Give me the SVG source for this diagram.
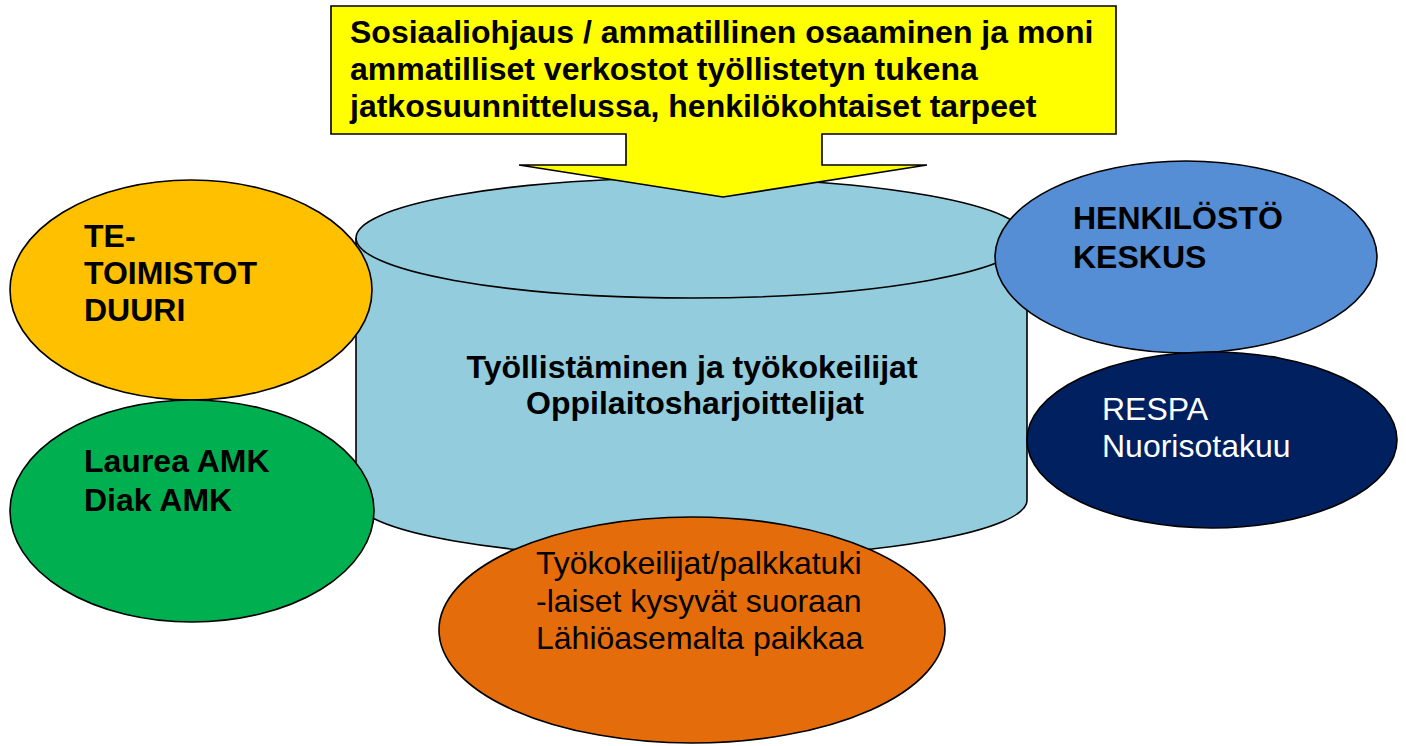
<svg xmlns="http://www.w3.org/2000/svg" width="1406" height="746" viewBox="0 0 1406 746">
<style>
.s{stroke:#000;stroke-width:1.6}
.t{font-family:"Liberation Sans",Arial,sans-serif;font-size:32px;fill:#000}
.b{font-weight:bold}
.w{fill:#fff}
</style>
<rect width="1406" height="746" fill="#fff"/>
<g id="cylinder">
<path class="s" fill="#93CDDD" d="M356,238 L356,500 A335.5,58 0 0 0 1027,500 L1027,238 A335.5,60 0 0 0 356,238 Z"/>
<path class="s" fill="none" d="M356,238 A335.5,60 0 0 0 1027,238"/>
<text class="t b" text-anchor="middle" x="692" y="378">Työllistäminen ja työkokeilijat</text>
<text class="t b" text-anchor="middle" x="695" y="414">Oppilaitosharjoittelijat</text>
</g>
<g id="callout">
<path class="s" fill="#FFFF00" d="M331,6 L1116,6 L1116,134 L822,134 L822,165 L927,165 L723,197 L519,165 L626,165 L626,134 L331,134 Z"/>
<text class="t b" x="350" y="43">Sosiaaliohjaus / ammatillinen osaaminen ja moni</text>
<text class="t b" x="350" y="80">ammatilliset verkostot työllistetyn tukena</text>
<text class="t b" x="350" y="117">jatkosuunnittelussa, henkilökohtaiset tarpeet</text>
</g>
<g id="te">
<ellipse class="s" fill="#FFC000" cx="191" cy="290" rx="181" ry="110"/>
<text class="t b" x="84" y="247">TE-</text>
<text class="t b" x="84" y="284">TOIMISTOT</text>
<text class="t b" x="84" y="321">DUURI</text>
</g>
<g id="amk">
<ellipse class="s" fill="#00B050" cx="192" cy="511" rx="182" ry="111"/>
<text class="t b" x="84" y="472">Laurea AMK</text>
<text class="t b" x="84" y="511">Diak AMK</text>
</g>
<g id="henkilosto">
<ellipse class="s" fill="#558ED5" cx="1186" cy="257" rx="191" ry="96"/>
<text class="t b" x="1073" y="229">HENKILÖSTÖ</text>
<text class="t b" x="1073" y="268">KESKUS</text>
</g>
<g id="respa">
<ellipse class="s" fill="#002060" cx="1212" cy="440" rx="185" ry="88"/>
<text class="t w" x="1102" y="420">RESPA</text>
<text class="t w" x="1102" y="457">Nuorisotakuu</text>
</g>
<g id="tyokokeilijat">
<ellipse class="s" fill="#E46C0A" cx="692" cy="630" rx="253" ry="113"/>
<text class="t" x="536" y="574">Työkokeilijat/palkkatuki</text>
<text class="t" x="536" y="612">-laiset kysyvät suoraan</text>
<text class="t" x="536" y="649">Lähiöasemalta paikkaa</text>
</g>
<g id="connectors"/>
</svg>
